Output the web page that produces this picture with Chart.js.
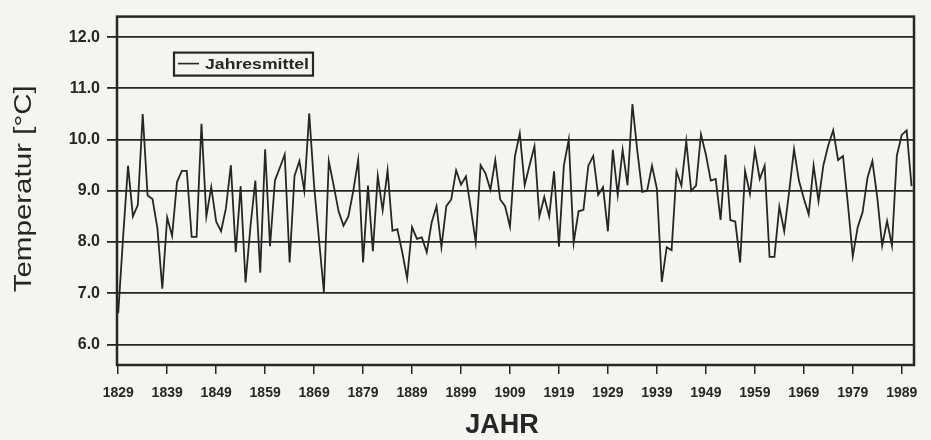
<!DOCTYPE html>
<html>
<head>
<meta charset="utf-8">
<script src="https://cdn.jsdelivr.net/npm/chart.js@4.4.1/dist/chart.umd.min.js"></script>
<style>
  html, body { margin: 0; padding: 0; background: #f4f4f1; }
  #wrap { position: relative; width: 931px; height: 440px; }
</style>
</head>
<body>
<div id="wrap"><canvas id="tempChart"></canvas></div>
<script>
// Jahresmittel der Lufttemperatur, 1829-1991
const firstYear = 1829;
const temps1829to1868 = [
  6.61, 8.1, 9.49, 8.5, 8.72, 10.5, 8.91, 8.84, 8.27, 7.09,
  8.48, 8.12, 9.17, 9.39, 9.39, 8.1, 8.1, 10.31, 8.5, 9.07,
  8.4, 8.21, 8.66, 9.5, 7.8, 9.09, 7.21, 8.3, 9.2, 7.4,
  9.81, 7.92, 9.2, 9.45, 9.71, 7.6, 9.29, 9.58, 9.0, 10.51
];
const temps1869to1908 = [
  9.1, 8.05, 7.02, 9.58, 9.1, 8.6, 8.32, 8.5, 9.0, 9.6,
  7.6, 9.1, 7.82, 9.29, 8.62, 9.4, 8.22, 8.25, 7.8, 7.29,
  8.29, 8.06, 8.09, 7.8, 8.38, 8.7, 7.9, 8.7, 8.83, 9.4,
  9.12, 9.28, 8.65, 8.0, 9.5, 9.34, 9.02, 9.6, 8.83, 8.7
];
const temps1909to1948 = [
  8.3, 9.67, 10.12, 9.11, 9.5, 9.87, 8.5, 8.88, 8.5, 9.38,
  7.91, 9.49, 10.0, 7.99, 8.6, 8.63, 9.49, 9.68, 8.92, 9.07,
  8.21, 9.8, 8.92, 9.8, 9.11, 10.69, 9.78, 8.98, 9.0, 9.49,
  9.04, 7.22, 7.9, 7.84, 9.38, 9.1, 9.97, 9.0, 9.1, 10.1
];
const temps1949to1991 = [
  9.71, 9.2, 9.23, 8.43, 9.7, 8.43, 8.4, 7.6, 9.39, 8.94,
  9.79, 9.23, 9.49, 7.71, 7.71, 8.69, 8.21, 8.98, 9.81, 9.2,
  8.85, 8.54, 9.49, 8.8, 9.5, 9.89, 10.18, 9.6, 9.68, 8.74,
  7.72, 8.29, 8.58, 9.25, 9.58, 8.87, 7.93, 8.41, 7.93, 9.69,
  10.09, 10.18, 9.09
];
const xTicks = [1829, 1839, 1849, 1859, 1869, 1879, 1889, 1899, 1909, 1919, 1929, 1939, 1949, 1959, 1969, 1979, 1989];
const yTicks = [6, 7, 8, 9, 10, 11, 12];
const seriesLabel = 'Jahresmittel';
const xTitle = 'JAHR';
const yTitle = 'Temperatur [°C]';

const temps = [].concat(temps1829to1868, temps1869to1908, temps1909to1948, temps1949to1991);
const points = temps.map((t, i) => ({ x: firstYear + i, y: t }));

const INK = '#262626';
const PAPER = '#f4f4f1';
const FONT = '"Liberation Sans", Arial, Helvetica, sans-serif';

// box round the plot
const framePlugin = {
  id: 'frame',
  afterDraw(chart) {
    const { ctx, chartArea: a } = chart;
    ctx.save();
    ctx.strokeStyle = INK;
    ctx.lineWidth = 2.5;
    ctx.strokeRect(a.left, a.top, a.right - a.left, a.bottom - a.top);
    ctx.restore();
  }
};

// framed legend inside the plot, top left
const legendBoxPlugin = {
  id: 'legendBox',
  afterDraw(chart) {
    const { ctx, chartArea: a } = chart;
    const label = chart.data.datasets[0].label;
    const x = a.left + 57, y = a.top + 36, w = 139, h = 23;
    ctx.save();
    ctx.fillStyle = PAPER;
    ctx.fillRect(x, y, w, h);
    ctx.strokeStyle = INK;
    ctx.lineWidth = 2.2;
    ctx.strokeRect(x, y, w, h);
    ctx.lineWidth = 1.6;
    ctx.beginPath();
    ctx.moveTo(x + 4, y + 11);
    ctx.lineTo(x + 25, y + 11);
    ctx.stroke();
    ctx.font = 'bold 15px ' + FONT;
    ctx.fillStyle = INK;
    ctx.textBaseline = 'middle';
    const tw = ctx.measureText(label).width;
    ctx.translate(x + 31, y + h / 2 + 1);
    ctx.scale(104 / tw, 1);
    ctx.fillText(label, 0, 0);
    ctx.restore();
  }
};

// axis titles (the scan's lettering is wider than the font, so stretch it)
const titlesPlugin = {
  id: 'titles',
  afterDraw(chart) {
    const { ctx, chartArea: a } = chart;
    ctx.save();
    ctx.fillStyle = INK;
    ctx.textAlign = 'center';
    ctx.textBaseline = 'middle';
    ctx.translate(25, (a.top + a.bottom) / 2 - 2);
    ctx.rotate(-Math.PI / 2);
    ctx.font = '23px ' + FONT;
    const w = ctx.measureText(yTitle).width;
    ctx.scale(207 / w, 1);
    ctx.fillText(yTitle, 0, 0);
    ctx.restore();

    ctx.save();
    ctx.fillStyle = INK;
    ctx.textAlign = 'center';
    ctx.textBaseline = 'alphabetic';
    ctx.font = 'bold 27px ' + FONT;
    ctx.fillText(xTitle, a.left + 0.483 * (a.right - a.left), chart.height - 7);
    ctx.restore();
  }
};

new Chart(document.getElementById('tempChart'), {
  type: 'line',
  data: {
    datasets: [{
      label: seriesLabel,
      data: points,
      borderColor: INK,
      borderWidth: 1.8,
      pointRadius: 0,
      tension: 0,
      fill: false
    }]
  },
  options: {
    responsive: true,
    maintainAspectRatio: false,
    animation: false,
    layout: { padding: { top: 12, right: 17, left: 0, bottom: 0 } },
    plugins: {
      legend: { display: false },
      tooltip: { enabled: false }
    },
    scales: {
      x: {
        type: 'linear',
        min: 1828.75,
        max: 1991.5,
        afterBuildTicks: (scale) => { scale.ticks = xTicks.map(v => ({ value: v })); },
        afterFit: (scale) => { scale.height = 75; },
        border: { display: false },
        grid: { drawOnChartArea: false, drawTicks: true, tickLength: 9, color: INK, lineWidth: 1.5 },
        ticks: {
          autoSkip: false,
          maxRotation: 0,
          padding: 11,
          color: INK,
          font: { family: FONT, size: 14, weight: 'bold' },
          callback: (v) => String(v)
        }
      },
      y: {
        min: 5.6,
        max: 12.4,
        afterBuildTicks: (scale) => { scale.ticks = yTicks.map(v => ({ value: v })); },
        afterFit: (scale) => { scale.width = 117; },
        border: { display: false },
        grid: { drawTicks: true, tickLength: 10, color: INK, lineWidth: 1.8 },
        ticks: {
          padding: 7,
          color: INK,
          font: { family: FONT, size: 16, weight: 'bold' },
          callback: (v) => v.toFixed(1)
        }
      }
    }
  },
  plugins: [framePlugin, legendBoxPlugin, titlesPlugin]
});
</script>
</body>
</html>
